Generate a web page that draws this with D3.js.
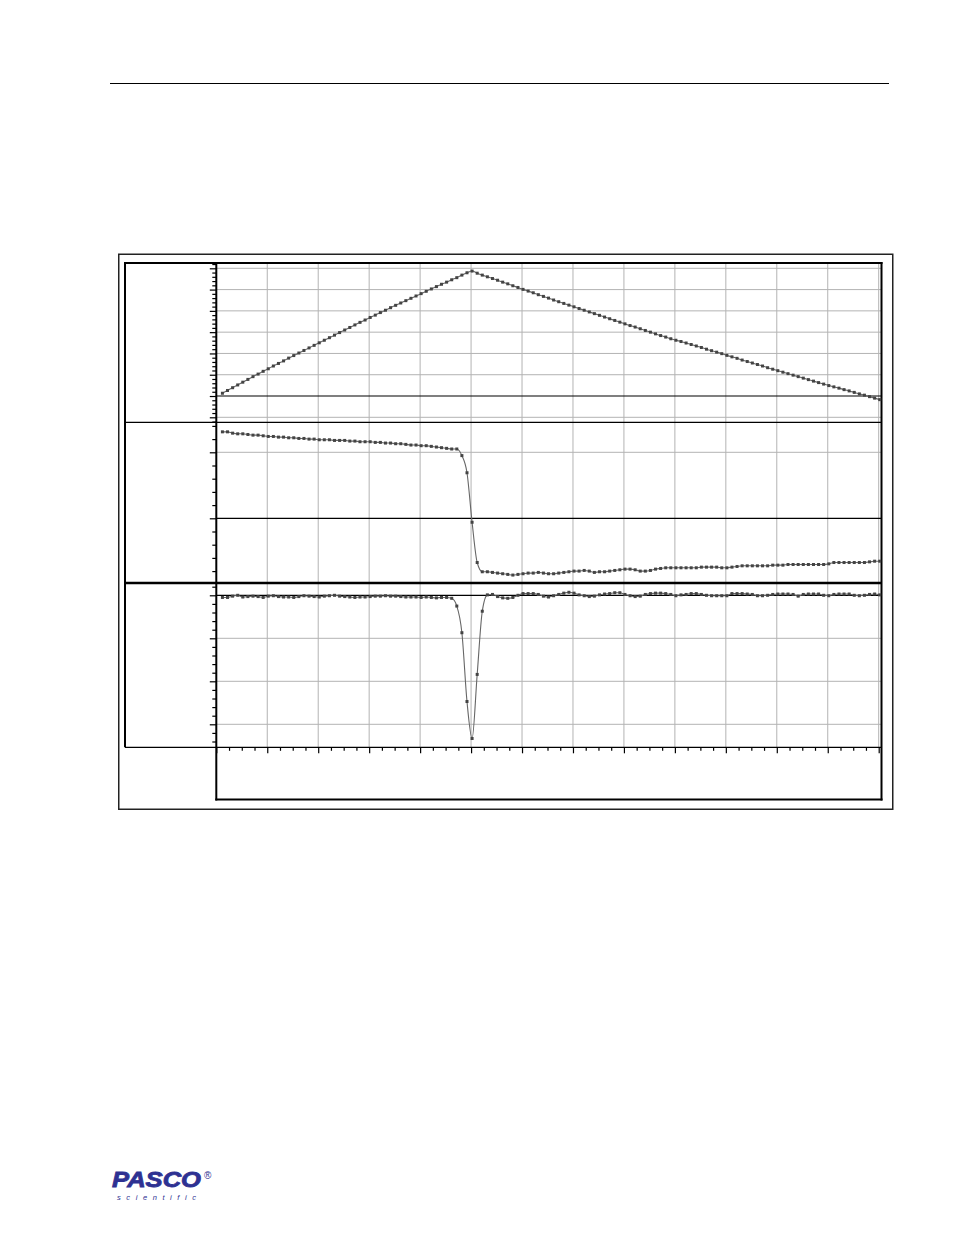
<!DOCTYPE html>
<html>
<head>
<meta charset="utf-8">
<script src="https://cdn.jsdelivr.net/npm/d3@7"></script>
<style>
  html, body { margin: 0; padding: 0; background: #fff; }
  svg { display: block; }
</style>
</head>
<body>
<script>
// ---------- DATA ----------
const times = [
  0.12,0.22,0.32,0.42,0.52,0.62,0.72,0.82,0.92,1.02,
  1.12,1.22,1.32,1.42,1.52,1.62,1.72,1.82,1.92,2.02,
  2.12,2.22,2.32,2.42,2.52,2.62,2.72,2.82,2.92,3.02,
  3.12,3.22,3.32,3.42,3.52,3.62,3.72,3.82,3.92,4.02,
  4.12,4.22,4.32,4.42,4.52,4.62,4.72,4.82,4.92,5.02,
  5.12,5.22,5.32,5.42,5.52,5.62,5.72,5.82,5.92,6.02,
  6.12,6.22,6.32,6.42,6.52,6.62,6.72,6.82,6.92,7.02,
  7.12,7.22,7.32,7.42,7.52,7.62,7.72,7.82,7.92,8.02,
  8.12,8.22,8.32,8.42,8.52,8.62,8.72,8.82,8.92,9.02,
  9.12,9.22,9.32,9.42,9.52,9.62,9.72,9.82,9.92,10.02,
  10.12,10.22,10.32,10.42,10.52,10.62,10.72,10.82,10.92,11.02,
  11.12,11.22,11.32,11.42,11.52,11.62,11.72,11.82,11.92,12.02,
  12.12,12.22,12.32,12.42,12.52,12.62,12.72,12.82,12.92,13.02
];

const position = [
  0.13,0.26,0.39,0.52,0.65,0.78,0.91,1.03,1.16,1.28,
  1.41,1.53,1.65,1.78,1.90,2.02,2.14,2.26,2.38,2.50,
  2.62,2.74,2.86,2.98,3.10,3.22,3.34,3.46,3.57,3.69,
  3.80,3.92,4.03,4.15,4.26,4.37,4.48,4.59,4.70,4.81,
  4.92,5.03,5.14,5.25,5.35,5.46,5.56,5.68,5.79,5.87,
  5.77,5.68,5.60,5.52,5.44,5.35,5.27,5.18,5.10,5.01,
  4.93,4.85,4.76,4.68,4.60,4.51,4.43,4.35,4.27,4.19,
  4.11,4.03,3.95,3.87,3.79,3.71,3.63,3.55,3.47,3.39,
  3.31,3.24,3.16,3.08,3.00,2.92,2.84,2.77,2.69,2.62,
  2.56,2.49,2.42,2.35,2.28,2.20,2.13,2.06,1.99,1.91,
  1.84,1.77,1.69,1.62,1.55,1.48,1.41,1.33,1.26,1.19,
  1.12,1.05,0.98,0.91,0.84,0.77,0.70,0.63,0.56,0.49,
  0.43,0.37,0.30,0.24,0.17,0.10,0.04,-0.03,-0.10,-0.17
];

const velocity = [
  1.31,1.31,1.29,1.28,1.28,1.27,1.26,1.26,1.25,1.24,
  1.24,1.23,1.23,1.22,1.22,1.21,1.21,1.20,1.20,1.19,
  1.19,1.19,1.18,1.18,1.18,1.17,1.17,1.16,1.16,1.16,
  1.15,1.15,1.14,1.14,1.13,1.13,1.12,1.11,1.11,1.10,
  1.10,1.09,1.08,1.07,1.06,1.05,1.05,0.95,0.69,-0.06,
  -0.67,-0.81,-0.81,-0.82,-0.83,-0.84,-0.85,-0.86,-0.85,-0.84,
  -0.83,-0.83,-0.82,-0.83,-0.84,-0.84,-0.83,-0.82,-0.81,-0.80,
  -0.80,-0.79,-0.80,-0.82,-0.81,-0.81,-0.80,-0.79,-0.78,-0.77,
  -0.77,-0.78,-0.80,-0.80,-0.79,-0.77,-0.76,-0.75,-0.75,-0.75,
  -0.75,-0.75,-0.75,-0.75,-0.74,-0.74,-0.74,-0.74,-0.75,-0.75,
  -0.74,-0.73,-0.72,-0.72,-0.72,-0.72,-0.72,-0.72,-0.71,-0.71,
  -0.71,-0.70,-0.70,-0.70,-0.70,-0.70,-0.70,-0.70,-0.70,-0.69,
  -0.67,-0.67,-0.67,-0.67,-0.67,-0.67,-0.67,-0.66,-0.65,-0.65
];

const acceleration = [
  -0.05,-0.05,-0.02,0.00,-0.04,-0.03,-0.02,-0.03,-0.05,-0.02,
  -0.01,-0.03,-0.04,-0.04,-0.05,-0.03,-0.01,-0.02,-0.03,-0.04,
  -0.02,-0.01,0.00,-0.02,-0.03,-0.04,-0.05,-0.04,-0.04,-0.03,
  -0.02,-0.02,-0.01,-0.02,-0.02,-0.03,-0.04,-0.04,-0.04,-0.05,
  -0.04,-0.05,-0.06,-0.05,-0.05,-0.07,-0.25,-0.87,-2.47,-3.33,
  -1.84,-0.37,0.01,0.02,-0.03,-0.06,-0.07,-0.05,0.00,0.04,
  0.04,0.04,0.02,-0.02,-0.04,-0.01,0.02,0.05,0.07,0.05,
  0.01,-0.01,-0.03,-0.02,0.01,0.03,0.04,0.06,0.06,0.02,
  -0.01,-0.03,-0.02,0.02,0.04,0.05,0.05,0.04,0.02,-0.01,
  0.01,0.02,0.04,0.04,0.02,0.00,-0.01,-0.01,-0.01,-0.01,
  0.04,0.04,0.04,0.03,0.02,-0.01,-0.01,0.00,0.02,0.03,
  0.03,0.03,0.02,-0.02,0.02,0.03,0.03,0.03,0.00,-0.01,
  0.02,0.03,0.03,0.03,0.00,-0.01,0.00,0.02,0.03,0.01
];

// axis extents (units of each panel)
const xMajorCount = 13;          // integer time gridlines 0..13
const panel1Grid = [-1, 1, 2, 3, 4, 5, 6];
const panel2Grid = [1];
const panel3Grid = [-1, -2, -3];

// ---------- LAYOUT ----------
const W = 954, H = 1235;
const plotL = 216.3, plotR = 881.5;
const innerL = 125, innerT = 263;
const p1 = {top: 263, bottom: 422.3};
const p2 = {top: 422.3, bottom: 583};
const p3 = {top: 583, bottom: 747.3};
const xBoxBottom = 799.5;

const gridColor = "#b3b3b3";
const seriesLine = "#666666";
const markerFill = "#444444";

const svg = d3.select("body").append("svg")
  .attr("width", W).attr("height", H)
  .style("background", "#fff");

const x = d3.scaleLinear().domain([0, 13]).range([216.3, 878.7]);
const y1 = d3.scaleLinear().domain([-1, 6]).range([417.3, 268.3]);
const y2 = d3.scaleLinear().domain([-1, 1]).range([584.3, 452.3]);
const y3 = d3.scaleLinear().domain([-3, 0]).range([724.3, 595.3]);

// header rule
svg.append("line").attr("x1", 110).attr("x2", 889).attr("y1", 83.5).attr("y2", 83.5)
  .attr("stroke", "#000").attr("stroke-width", 1);

// outer frame
svg.append("rect").attr("x", 118.75).attr("y", 254.25).attr("width", 774).attr("height", 555)
  .attr("fill", "none").attr("stroke", "#222").attr("stroke-width", 1.5);

// vertical gridlines across all panels
const xGrid = d3.range(1, xMajorCount + 1);
svg.append("g").selectAll("line").data(xGrid).join("line")
  .attr("x1", d => x(d)).attr("x2", d => x(d))
  .attr("y1", innerT).attr("y2", p3.bottom)
  .attr("stroke", gridColor).attr("stroke-width", 1);

// horizontal gridlines
function hGrid(vals, y) {
  svg.append("g").selectAll("line").data(vals).join("line")
    .attr("x1", plotL).attr("x2", plotR)
    .attr("y1", d => y(d)).attr("y2", d => y(d))
    .attr("stroke", gridColor).attr("stroke-width", 1);
}
hGrid(panel1Grid, y1);
hGrid(panel2Grid, y2);
hGrid(panel3Grid, y3);

// zero lines (black)
[y1, y2, y3].forEach(y => {
  svg.append("line").attr("x1", plotL).attr("x2", plotR)
    .attr("y1", y(0)).attr("y2", y(0))
    .attr("stroke", "#000").attr("stroke-width", 1.2);
});

// y-axis ticks
function yTicks(y, lo, hi) {
  const minor = d3.range(lo, hi + 1).map(k => k / 5).filter(v => Math.abs(v - Math.round(v)) > 1e-6);
  const major = d3.range(Math.ceil(lo / 5), Math.floor(hi / 5) + 1);
  const gMin = svg.append("g").attr("transform", `translate(${plotL},0)`)
    .call(d3.axisLeft(y).tickValues(minor).tickSize(4).tickFormat(""));
  const gMaj = svg.append("g").attr("transform", `translate(${plotL},0)`)
    .call(d3.axisLeft(y).tickValues(major).tickSize(6.5).tickFormat(""));
  [gMin, gMaj].forEach(g => {
    g.select(".domain").remove();
    g.selectAll("line").attr("stroke", "#000").attr("stroke-width", 1.2);
  });
}
yTicks(y1, -6, 31);   // -1.2 .. 6.2
yTicks(y2, -4, 7);    // -0.8 .. 1.4
yTicks(y3, -17, 1);   // -3.4 .. 0.2

// x-axis ticks
const xMinor = d3.range(1, 13 * 4).filter(k => k % 4 !== 0).map(k => k / 4);
const xMajor = d3.range(0, xMajorCount + 1);
[[xMinor, 3.5], [xMajor, 6]].forEach(([vals, len]) => {
  const g = svg.append("g").attr("transform", `translate(0,${p3.bottom})`)
    .call(d3.axisBottom(x).tickValues(vals).tickSize(len).tickFormat(""));
  g.select(".domain").remove();
  g.selectAll("line").attr("stroke", "#000").attr("stroke-width", 1.2);
});

// frame lines
function ln(x1, y1_, x2, y2_, w) {
  svg.append("line").attr("x1", x1).attr("y1", y1_).attr("x2", x2).attr("y2", y2_)
    .attr("stroke", "#000").attr("stroke-width", w);
}
ln(innerL - 1, innerT, plotR + 1, innerT, 2);        // top
ln(innerL, innerT, innerL, p3.bottom, 2);             // left
ln(plotR, innerT - 1, plotR, xBoxBottom + 1, 2);      // right
ln(innerL, p2.top, plotR, p2.top, 1.2);               // separator 1
ln(innerL, p3.top, plotR, p3.top, 2.6);               // separator 2
ln(innerL, p3.bottom, plotR, p3.bottom, 1.3);         // bottom of panel 3 / x-axis line
ln(plotL, innerT, plotL, xBoxBottom + 1, 2);          // y axis line
ln(plotL - 1, xBoxBottom, plotR + 1, xBoxBottom, 2);  // x-box bottom

// series
function series(values, y) {
  const pts = times.map((t, i) => [t, values[i]]);
  const line = d3.line().x(d => x(d[0])).y(d => y(d[1])).curve(d3.curveMonotoneX);
  svg.append("path").datum(pts).attr("d", line)
    .attr("fill", "none").attr("stroke", seriesLine).attr("stroke-width", 1.1);
  const s = 3;
  svg.append("g").selectAll("rect").data(pts).join("rect")
    .attr("x", d => x(d[0]) - s / 2).attr("y", d => y(d[1]) - s / 2)
    .attr("width", s).attr("height", s).attr("fill", markerFill);
}
series(position, y1);
series(velocity, y2);
series(acceleration, y3);

// PASCO logo
const logo = svg.append("g").attr("fill", "#2e3192");
logo.append("text").attr("x", 112).attr("y", 1187)
  .attr("font-family", "Liberation Sans, Arial, sans-serif")
  .attr("font-weight", "bold").attr("font-style", "italic")
  .attr("font-size", 22).attr("textLength", 89).attr("lengthAdjust", "spacingAndGlyphs")
  .attr("stroke", "#2e3192").attr("stroke-width", 0.8)
  .text("PASCO");
logo.append("text").attr("x", 204).attr("y", 1179)
  .attr("font-family", "Liberation Sans, Arial, sans-serif")
  .attr("font-size", 10).text("®");
logo.append("text").attr("x", 117).attr("y", 1199.5)
  .attr("font-family", "Liberation Sans, Arial, sans-serif")
  .attr("font-style", "italic")
  .attr("font-size", 7.5).attr("textLength", 79).attr("lengthAdjust", "spacing")
  .text("scientific");
</script>
</body>
</html>
